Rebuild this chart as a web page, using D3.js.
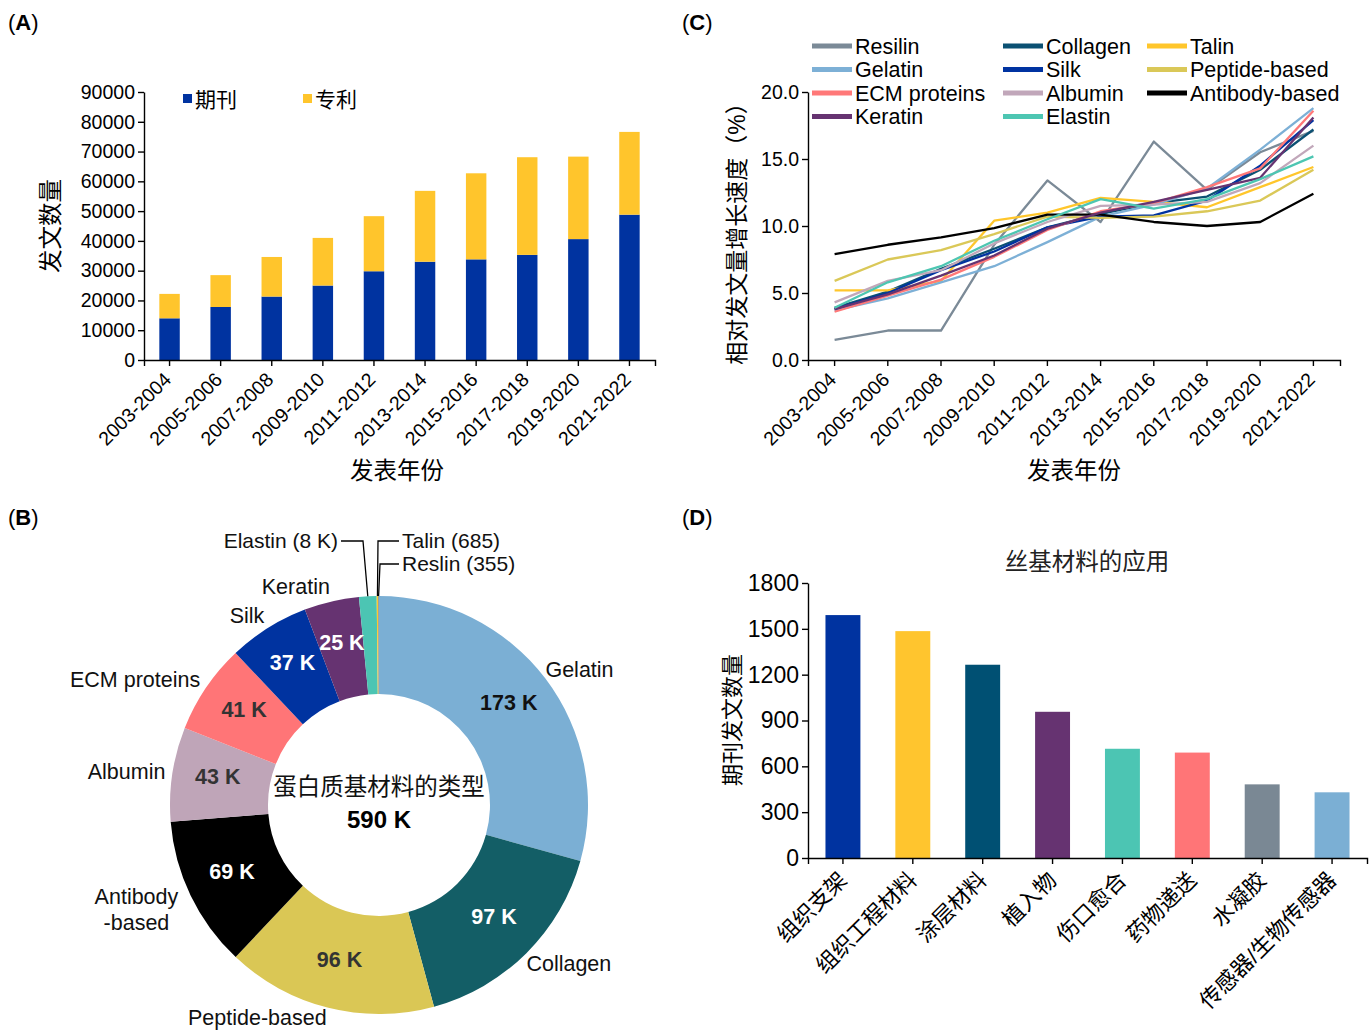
<!DOCTYPE html>
<html>
<head>
<meta charset="utf-8">
<script src="https://cdn.jsdelivr.net/npm/d3@7"></script>
<style>
  body { margin: 0; background: #fff; }
  svg { font-family: "Liberation Sans", Arial, "Noto Sans CJK SC", sans-serif; }
</style>
</head>
<body>
<svg id="fig" width="1370" height="1033"></svg>
<script>
// ---- data ----
const periods = ["2003-2004", "2005-2006", "2007-2008", "2009-2010", "2011-2012",
                 "2013-2014", "2015-2016", "2017-2018", "2019-2020", "2021-2022"];
const journalCounts = [14000, 17800, 21300, 25000, 29800, 33000, 33800, 35300, 40600, 48800];
const patentCounts  = [8200, 10700, 13300, 16000, 18500, 23800, 28900, 32800, 27700, 27800];
const countKeys = ["期刊", "专利"];

const growthNames = ["Resilin", "Collagen", "Talin", "Gelatin", "Silk", "Peptide-based",
                     "ECM proteins", "Albumin", "Antibody-based", "Keratin", "Elastin"];
const resilinGrowth  = [1.5, 2.2, 2.2, 8.6, 13.4, 10.3, 16.3, 12.7, 15.5, 17.1];
const collagenGrowth = [3.9, 5.1, 6.8, 8.3, 9.9, 10.9, 11.7, 12.2, 14.2, 17.2];
const talinGrowth    = [5.2, 5.2, 5.9, 10.4, 11.0, 12.1, 11.8, 11.4, 12.9, 14.4];
const gelatinGrowth  = [3.7, 4.6, 5.8, 7.0, 8.8, 10.7, 11.6, 12.8, 15.7, 18.8];
const silkGrowth     = [3.8, 5.0, 6.7, 8.1, 9.9, 10.7, 10.8, 11.9, 14.5, 17.9];
const peptideGrowth  = [5.9, 7.5, 8.2, 9.4, 10.7, 10.6, 10.7, 11.1, 11.9, 14.2];
const ecmGrowth      = [3.6, 4.8, 6.0, 7.7, 9.7, 11.1, 11.7, 12.9, 14.3, 18.6];
const albuminGrowth  = [4.3, 5.9, 6.7, 8.7, 10.3, 11.5, 11.6, 11.8, 13.2, 16.0];
const antibodyGrowth = [7.9, 8.6, 9.15, 9.85, 10.85, 10.85, 10.3, 10.0, 10.3, 12.4];
const keratinGrowth  = [3.8, 4.9, 6.3, 7.8, 9.8, 11.0, 11.8, 12.7, 13.6, 18.1];
const elastinGrowth  = [3.9, 5.8, 7.0, 8.9, 10.5, 12.0, 11.3, 12.0, 13.5, 15.2];

const proteinNames  = ["Gelatin", "Collagen", "Peptide-based", "Antibody\n-based", "Albumin",
                       "ECM proteins", "Silk", "Keratin", "Elastin", "Talin", "Reslin"];
const proteinCounts = [173, 97, 96, 69, 43, 41, 37, 25, 8, 0.685, 0.355]; // thousands

const applications = ["组织支架", "组织工程材料", "涂层材料", "植入物", "伤口愈合",
                      "药物递送", "水凝胶", "传感器/生物传感器"];
const appCounts = [1590, 1485, 1265, 957, 715, 690, 482, 430];

// ---- styles ----
const blue = "#0033a0", yellow = "#ffc52c";
const lineColors = {
  "Resilin": "#7b8a97", "Collagen": "#0b5173", "Talin": "#ffc62b", "Gelatin": "#7db0d6",
  "Silk": "#0033a1", "Peptide-based": "#dac858", "ECM proteins": "#ff7878", "Albumin": "#c1a7ba",
  "Antibody-based": "#000000", "Keratin": "#663371", "Elastin": "#4dc6b2"
};
const pieColors = ["#7bafd4", "#135e66", "#dac755", "#000000", "#bfa5b8",
                   "#ff7577", "#0033a0", "#663371", "#4cc5b3", "#ffc72c", "#7a8894"];
const pieLabelFill = ["#111", "#fff", "#333", "#fff", "#333", "#333", "#fff", "#fff"];
const appColors = ["#0033a0", "#ffc52e", "#005073", "#663371", "#4cc5b3", "#ff7577", "#7a8894", "#7bafd4"];

const svg = d3.select("#fig");

function styleAxis(g, size) {
  g.attr("font-size", null).attr("font-family", null);
  g.select(".domain").attr("stroke", "#000").attr("stroke-width", 1.4);
  g.selectAll(".tick line").attr("stroke", "#000").attr("stroke-width", 1.4);
  g.selectAll(".tick text").attr("fill", "#000").style("font-size", size + "px");
}

function rotateTicks(g, dx, dy) {
  g.selectAll(".tick text")
    .attr("x", 0).attr("y", 0).attr("dy", "0.35em")
    .attr("transform", `translate(${dx},${dy}) rotate(-45)`)
    .style("text-anchor", "end");
}

function panelLetter(x, y, letter) {
  const t = svg.append("text").attr("x", x).attr("y", y).style("font-size", "22px");
  t.append("tspan").text("(");
  t.append("tspan").attr("font-weight", "bold").text(letter);
  t.append("tspan").text(")");
}

panelLetter(8, 30, "A");
panelLetter(682, 30, "C");
panelLetter(8, 525, "B");
panelLetter(682, 525, "D");

// ---- (A) stacked bars ----
{
  const x = d3.scaleBand().domain(periods).range([144, 655]).paddingInner(0.6).paddingOuter(0.3);
  const y = d3.scaleLinear().domain([0, 90000]).range([360, 92]);
  const rows = periods.map((p, i) => ({ period: p, "期刊": journalCounts[i], "专利": patentCounts[i] }));
  const stack = d3.stack().keys(countKeys)(rows);
  const colors = [blue, yellow];

  svg.append("g").selectAll("g").data(stack).join("g")
    .attr("fill", (d, i) => colors[i])
    .selectAll("rect").data(d => d).join("rect")
      .attr("x", d => x(d.data.period))
      .attr("width", x.bandwidth())
      .attr("y", d => y(d[1]))
      .attr("height", d => y(d[0]) - y(d[1]));

  const ax = svg.append("g").attr("transform", "translate(0,360)")
    .call(d3.axisBottom(x).tickSize(6).tickSizeOuter(6));
  styleAxis(ax, 19.5);
  rotateTicks(ax, -2, 16);

  const ay = svg.append("g").attr("transform", "translate(144,0)")
    .call(d3.axisLeft(y).tickValues(d3.range(0, 90001, 10000)).tickSize(6).tickSizeOuter(0).tickFormat(d3.format("d")));
  styleAxis(ay, 19.5);

  svg.append("text").attr("x", 397).attr("y", 479).attr("text-anchor", "middle")
    .style("font-size", "23.5px").text("发表年份");
  svg.append("text").attr("transform", "translate(59,226) rotate(-90)").attr("text-anchor", "middle")
    .style("font-size", "23.5px").text("发文数量");

  const legX = [183, 303];
  countKeys.forEach((k, i) => {
    svg.append("rect").attr("x", legX[i]).attr("y", 94).attr("width", 9).attr("height", 9).attr("fill", colors[i]);
    svg.append("text").attr("x", legX[i] + 12).attr("y", 107).style("font-size", "21px").text(k);
  });
}

// ---- (C) growth lines ----
{
  const x = d3.scaleBand().domain(periods).range([808, 1340]);
  const y = d3.scaleLinear().domain([0, 20]).range([360, 92]);
  const series = {
    "Resilin": resilinGrowth, "Collagen": collagenGrowth, "Talin": talinGrowth,
    "Gelatin": gelatinGrowth, "Silk": silkGrowth, "Peptide-based": peptideGrowth,
    "ECM proteins": ecmGrowth, "Albumin": albuminGrowth, "Antibody-based": antibodyGrowth,
    "Keratin": keratinGrowth, "Elastin": elastinGrowth
  };
  const line = d3.line().x((d, i) => x(periods[i]) + x.bandwidth() / 2).y(d => y(d));

  const ax = svg.append("g").attr("transform", "translate(0,360)")
    .call(d3.axisBottom(x).tickSize(6).tickSizeOuter(6));
  styleAxis(ax, 19.5);
  rotateTicks(ax, -2, 16);

  const ay = svg.append("g").attr("transform", "translate(808,0)")
    .call(d3.axisLeft(y).tickValues([0, 5, 10, 15, 20]).tickSize(6).tickSizeOuter(0).tickFormat(d3.format(".1f")));
  styleAxis(ay, 19.5);

  svg.append("g").selectAll("path").data(growthNames).join("path")
    .attr("fill", "none")
    .attr("stroke", d => lineColors[d])
    .attr("stroke-width", 2.3)
    .attr("stroke-linejoin", "round")
    .attr("d", d => line(series[d]));

  const colX = [812, 1003, 1147];
  growthNames.forEach((n, i) => {
    const cx = colX[i % 3], cy = 46 + Math.floor(i / 3) * 23.5;
    svg.append("line").attr("x1", cx).attr("x2", cx + 40).attr("y1", cy).attr("y2", cy)
      .attr("stroke", lineColors[n]).attr("stroke-width", 5);
    svg.append("text").attr("x", cx + 43).attr("y", cy).attr("dy", "0.36em")
      .style("font-size", "21.5px").text(n);
  });

  svg.append("text").attr("x", 1074).attr("y", 479).attr("text-anchor", "middle")
    .style("font-size", "23.5px").text("发表年份");
  svg.append("text").attr("transform", "translate(745,228) rotate(-90)").attr("text-anchor", "middle")
    .style("font-size", "23px").text("相对发文量增长速度（%）");
}

// ---- (B) donut ----
{
  const cx = 379, cy = 805, rIn = 111, rOut = 209;
  const labelSize = "21.5px";
  const g = svg.append("g").attr("transform", `translate(${cx},${cy})`);
  const arcs = d3.pie().sort(null).value(d => d)(proteinCounts);
  const arc = d3.arc().innerRadius(rIn).outerRadius(rOut);

  g.selectAll("path").data(arcs).join("path")
    .attr("fill", (d, i) => pieColors[i])
    .attr("d", arc);

  const fmtK = v => Math.round(v) + " K";
  const midArc = d3.arc().innerRadius(163).outerRadius(163);
  g.selectAll("text.val").data(arcs.slice(0, 8)).join("text")
    .attr("class", "val")
    .attr("x", d => midArc.centroid(d)[0])
    .attr("y", d => midArc.centroid(d)[1] - 4)
    .attr("dy", "0.35em")
    .attr("text-anchor", "middle")
    .attr("font-weight", "bold")
    .attr("fill", (d, i) => pieLabelFill[i])
    .style("font-size", labelSize)
    .text(d => fmtK(d.data));

  // outside labels for the large slices
  arcs.slice(0, 8).forEach((d, i) => {
    const a = (d.startAngle + d.endAngle) / 2;
    const right = Math.sin(a) >= 0;
    const px = Math.sin(a) * (right ? 209 : 216);
    const py = Math.min(-Math.cos(a) * 224, 212);
    const lines = proteinNames[i].split("\n");
    const t = g.append("text").attr("y", py).style("font-size", labelSize).attr("fill", "#111");
    if (lines.length === 1) {
      t.attr("x", px).attr("dy", "0.35em").attr("text-anchor", right ? "start" : "end").text(lines[0]);
    } else {
      const tmp = g.append("text").style("font-size", labelSize).text(lines[0]);
      const w = tmp.node().getComputedTextLength();
      tmp.remove();
      const mx = px - w / 2 - 6;
      lines.forEach((ln, k) => {
        t.append("tspan").attr("x", mx).attr("text-anchor", "middle")
          .attr("dy", k === 0 ? "0.1em" : "1.2em").text(ln);
      });
    }
  });

  // leader-line labels for the tiny slices
  const small = [
    { i: 8, text: proteinNames[8] + " (" + fmtK(proteinCounts[8]) + ")", lx: -41, ly: -264, ex: -16, anchor: "end" },
    { i: 9, text: proteinNames[9] + " (" + Math.round(proteinCounts[9] * 1000) + ")", lx: 23, ly: -264, ex: -1, anchor: "start" },
    { i: 10, text: proteinNames[10] + " (" + Math.round(proteinCounts[10] * 1000) + ")", lx: 23, ly: -241, ex: 1, anchor: "start" }
  ];
  const outArc = d3.arc().innerRadius(rOut).outerRadius(rOut);
  small.forEach(s => {
    const [ox, oy] = outArc.centroid(arcs[s.i]);
    const sx = s.anchor === "end" ? s.lx + 3 : s.lx - 3;
    g.append("polyline")
      .attr("points", [[sx, s.ly], [s.ex, s.ly], [ox, oy]].map(p => p.join(",")).join(" "))
      .attr("fill", "none").attr("stroke", "#000").attr("stroke-width", 1.3);
    g.append("text").attr("x", s.lx).attr("y", s.ly).attr("dy", "0.35em")
      .attr("text-anchor", s.anchor).style("font-size", "21px").attr("fill", "#111").text(s.text);
  });

  g.append("text").attr("y", -18).attr("dy", "0.35em").attr("text-anchor", "middle")
    .style("font-size", "23.5px").attr("fill", "#111").text("蛋白质基材料的类型");
  g.append("text").attr("y", 15).attr("dy", "0.35em").attr("text-anchor", "middle")
    .attr("font-weight", "bold").style("font-size", "24px").attr("fill", "#000")
    .text(fmtK(d3.sum(proteinCounts)));
}

// ---- (D) silk applications ----
{
  const x = d3.scaleBand().domain(applications).range([808, 1367]).paddingInner(0.5).paddingOuter(0.25);
  const y = d3.scaleLinear().domain([0, 1800]).range([858, 583]);

  svg.append("g").selectAll("rect").data(applications).join("rect")
    .attr("x", d => x(d))
    .attr("width", x.bandwidth())
    .attr("y", (d, i) => y(appCounts[i]))
    .attr("height", (d, i) => y(0) - y(appCounts[i]))
    .attr("fill", (d, i) => appColors[i]);

  const ax = svg.append("g").attr("transform", "translate(0,858)")
    .call(d3.axisBottom(x).tickSize(6).tickSizeOuter(6));
  styleAxis(ax, 22);
  rotateTicks(ax, 0, 18);

  const ay = svg.append("g").attr("transform", "translate(808,0)")
    .call(d3.axisLeft(y).tickValues(d3.range(0, 1801, 300)).tickSize(6).tickSizeOuter(0).tickFormat(d3.format("d")));
  styleAxis(ay, 23);

  svg.append("text").attr("x", 1087).attr("y", 570).attr("text-anchor", "middle")
    .style("font-size", "23.5px").attr("fill", "#222").text("丝基材料的应用");
  svg.append("text").attr("transform", "translate(740,720) rotate(-90)").attr("text-anchor", "middle")
    .style("font-size", "22px").text("期刊发文数量");
}
</script>
</body>
</html>
